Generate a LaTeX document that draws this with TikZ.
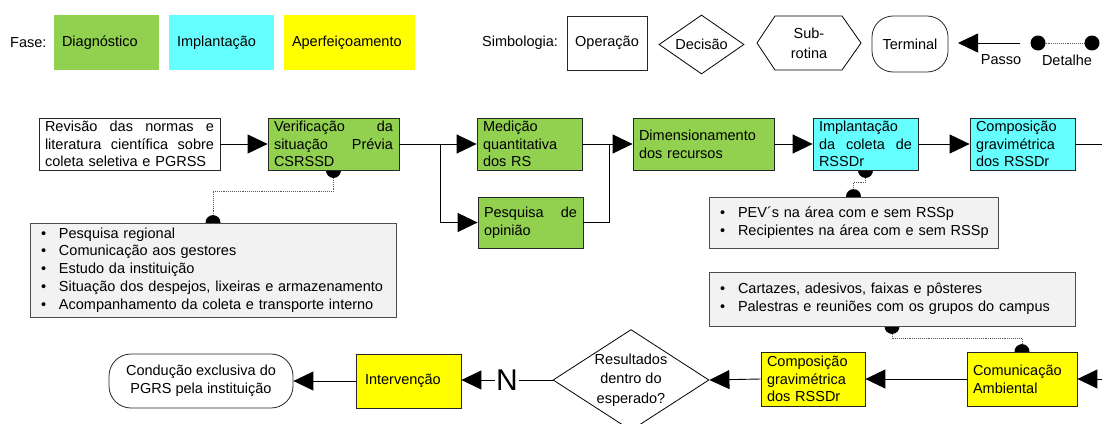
\documentclass[tikz,border=0pt]{standalone}
\usepackage{fontspec}
\setmainfont{Liberation Sans}
\usepackage{tikz}
\usepackage{xcolor}
\usetikzlibrary{arrows.meta,shapes.geometric,backgrounds}

\definecolor{diagcor}{HTML}{92D050}
\definecolor{implcor}{HTML}{66FFFF}
\definecolor{aperfcor}{HTML}{FFFF00}
\definecolor{detcor}{HTML}{F2F2F2}

\newcommand{\fs}{\fontsize{14.5}{17.8}\selectfont}
\newcommand{\bul}{\makebox[18pt][l]{\textbullet}}
\newcommand{\jl}[2]{\makebox[#1]{#2}}

\begin{document}
\begin{tikzpicture}[x=1pt, y=-1pt,
  every node/.style={font=\fs},
  rotulo/.style={inner sep=0pt},
  caixa/.style={draw=black!85, line width=0.8pt, minimum height=52pt, inner xsep=6pt, inner ysep=1pt, align=left},
  fase/.style={minimum height=55pt, inner xsep=8pt, align=left},
  detbox/.style={draw=black!70, line width=0.8pt, fill=detcor, inner xsep=11pt, inner ysep=3pt, align=left},
  passo/.style={line width=0.9pt, -{Triangle[length=20pt, width=19pt]}},
  linha/.style={line width=0.9pt},
  detalhe/.style={line width=0.9pt, densely dotted, black!65}
]

\useasboundingbox (0,0) rectangle (1102,423);

\node[rotulo, anchor=west] (lfase) at (10,42.5) {Fase:};
\node[fase, fill=diagcor, text width=89pt] (fdiag) at (106.5,42.5) {Diagnóstico};
\node[fase, fill=implcor, text width=89pt] (fimpl) at (221.5,42.5) {Implantação};
\node[fase, fill=aperfcor, text width=115pt] (faperf) at (349.5,42.5) {Aperfeiçoamento};

\node[rotulo, anchor=west] (lsimb) at (482,43) {Simbologia:};
\node[caixa, minimum width=80pt, minimum height=54pt] (sop) at (607,43) {Operação};
\node[draw, line width=0.8pt, diamond, aspect=1.45, inner sep=0pt, minimum width=85pt, minimum height=59pt] (sdec) at (701.5,44.5) {Decisão};
\draw[line width=0.8pt] (757,43) -- (775,16) -- (842,16) -- (861,43) -- (842,70) -- (775,70) -- cycle;
\node[align=center, font=\fontsize{14.5}{20}\selectfont] (ssub) at (809,43) {Sub-\\rotina};
\node[caixa, rounded corners=21pt, minimum width=76pt, minimum height=56pt, align=center] (sterm) at (910,44) {Terminal};
\coordinate (p1) at (1020,43);
\coordinate (p0) at (958,43);
\draw[passo] (p1) -- (p0);
\node[rotulo] (lpasso) at (1001,60) {Passo};
\coordinate (d0) at (1038,43);
\coordinate (d1) at (1092,43);
\draw[detalhe] (d0) -- (d1);
\fill (d0) circle[radius=7.5];
\fill (d1) circle[radius=7.5];
\node[rotulo] (ldet) at (1067,60) {Detalhe};

\node[caixa, text width=169pt] (rev) at (129.5,144) {\jl{169pt}{Revisão\hfill das\hfill normas\hfill e}\\\jl{169pt}{literatura\hfill científica\hfill sobre}\\coleta seletiva e PGRSS};
\node[caixa, fill=diagcor, text width=119pt] (verif) at (333.5,144) {\jl{119pt}{Verificação\hfill da}\\\jl{119pt}{situação\hfill Prévia}\\CSRSSD};
\node[caixa, fill=diagcor, text width=93pt] (med) at (529.5,144) {Medição\\quantitativa\\dos RS};
\node[caixa, fill=diagcor, text width=93pt, minimum height=51pt] (pesq) at (530.5,222.5) {\jl{93pt}{Pesquisa\hfill de}\\opinião};
\node[caixa, fill=diagcor, text width=129pt] (dim) at (703.5,144) {Dimensionamento\\dos recursos};
\node[caixa, fill=implcor, text width=93pt] (impl) at (865.5,144) {Implantação\\\jl{93pt}{da\hfill coleta\hfill de}\\RSSDr};
\node[caixa, fill=implcor, text width=93pt] (compc) at (1022.5,144) {Composição\\gravimétrica\\dos RSSDr};

\node[detbox, text width=344pt, minimum height=94pt] (det1) at (213,270) {\bul Pesquisa regional\\\bul Comunicação aos gestores\\\bul Estudo da instituição\\\bul Situação dos despejos, lixeiras e armazenamento\\\bul Acompanhamento da coleta e transporte interno};
\node[detbox, text width=267pt, minimum height=51pt] (det2) at (853.5,222.5) {\mbox{\bul PEV´s na área com e sem RSSp}\\\mbox{\bul Recipientes na área com e sem RSSp}};
\node[detbox, text width=344pt, minimum height=54pt] (det3) at (892,299) {\bul Cartazes, adesivos, faixas e pôsteres\\\bul Palestras e reuniões com os grupos do campus};

\node[caixa, fill=aperfcor, text width=98pt, minimum height=54pt] (comu) at (1022,379) {Comunicação\\Ambiental};
\node[caixa, fill=aperfcor, text width=92pt, minimum height=54pt] (compy) at (813,379) {Composição\\gravimétrica\\dos RSSDr};
\node[draw, line width=0.8pt, diamond, aspect=1.5, inner sep=0pt, minimum width=156pt, minimum height=100pt, align=center, font=\fontsize{14.5}{19.5}\selectfont] (dec) at (631,380) {Resultados\\dentro do\\esperado?};
\node[caixa, fill=aperfcor, text width=87pt, inner xsep=9pt, minimum height=54pt] (interv) at (408.5,381) {Intervenção};
\node[caixa, rounded corners=22pt, minimum width=184pt, minimum height=54pt, align=center] (term) at (201,381) {Condução exclusiva do\\PGRS pela instituição};

\coordinate (split) at (440,144);
\coordinate (join) at (609,144);
\coordinate (saida) at (1102,144);
\coordinate (entrada) at (1102,379);

\draw[passo] (rev.east) -- (verif.west);
\draw[linha] (verif.east) -- (split);
\draw[passo] (split) -- (med.west);
\draw[passo] (split) |- (pesq.west);
\draw[passo] (med.east) -- (dim.west);
\draw[linha] (pesq.east) -| (join);
\draw[passo] (dim.east) -- (impl.west);
\draw[passo] (impl.east) -- (compc.west);
\draw[linha] (compc.east) -- (saida);

\draw[passo] (entrada) -- (comu.east);
\draw[passo] (comu.west) -- (compy.east);
\draw[passo] (compy.west) -- (dec.east);
\draw[passo] (dec.west) -- node[fill=white, inner sep=1pt, font=\fontsize{30}{30}\selectfont] (rotn) {N} (interv.east |- dec.west);
\draw[passo] (interv.west) -- (term.east);

\begin{pgfonlayer}{background}
\draw[detalhe] (verif.south) -- ++(0,21) -| (det1.north);
\fill (verif.south) circle[radius=7.5];
\fill (det1.north) circle[radius=7.5];
\draw[detalhe] (impl.south) -- ++(0,12) -| (det2.north);
\fill (impl.south) circle[radius=7.5];
\fill (det2.north) circle[radius=7.5];
\draw[detalhe] (det3.south) -- ++(0,12) -| (comu.north);
\fill (det3.south) circle[radius=7.5];
\fill (comu.north) circle[radius=7.5];
\end{pgfonlayer}

\end{tikzpicture}
\end{document}
